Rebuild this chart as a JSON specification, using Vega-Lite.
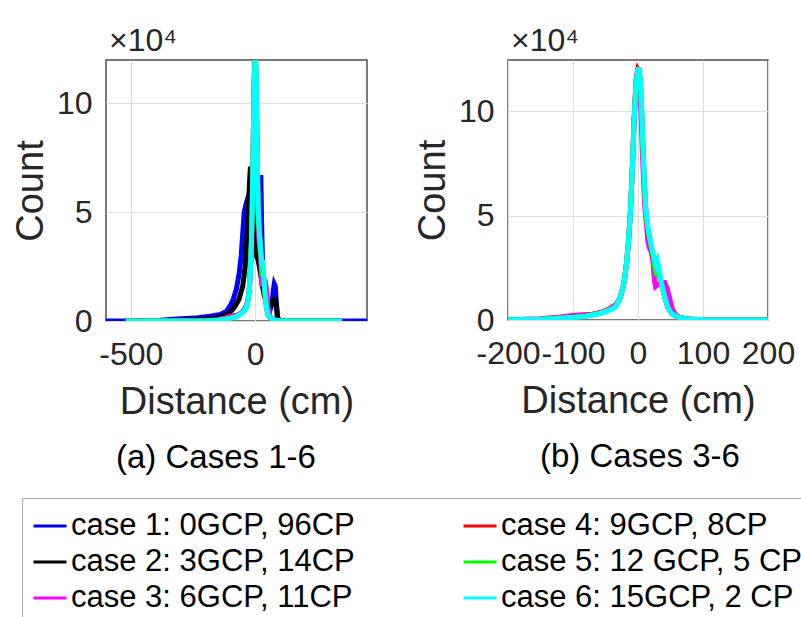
{
  "$schema": "https://vega.github.io/schema/vega-lite/v6.json",
  "padding": {"left": 11, "top": 24, "right": 0, "bottom": 0},
  "background": "white",
  "datasets": {
    "all": [
      {"case": "case 1: 0GCP, 96CP", "x": -600, "y": 0},
      {"case": "case 1: 0GCP, 96CP", "x": -430, "y": 0},
      {"case": "case 1: 0GCP, 96CP", "x": -380, "y": 0.03},
      {"case": "case 1: 0GCP, 96CP", "x": -330, "y": 0.08},
      {"case": "case 1: 0GCP, 96CP", "x": -280, "y": 0.12},
      {"case": "case 1: 0GCP, 96CP", "x": -230, "y": 0.15},
      {"case": "case 1: 0GCP, 96CP", "x": -180, "y": 0.22},
      {"case": "case 1: 0GCP, 96CP", "x": -140, "y": 0.3},
      {"case": "case 1: 0GCP, 96CP", "x": -115, "y": 0.45},
      {"case": "case 1: 0GCP, 96CP", "x": -100, "y": 0.7},
      {"case": "case 1: 0GCP, 96CP", "x": -88, "y": 1.0},
      {"case": "case 1: 0GCP, 96CP", "x": -75, "y": 1.5},
      {"case": "case 1: 0GCP, 96CP", "x": -64, "y": 2.2},
      {"case": "case 1: 0GCP, 96CP", "x": -56, "y": 3.0},
      {"case": "case 1: 0GCP, 96CP", "x": -50, "y": 4.0},
      {"case": "case 1: 0GCP, 96CP", "x": -44, "y": 5.0},
      {"case": "case 1: 0GCP, 96CP", "x": -36, "y": 5.4},
      {"case": "case 1: 0GCP, 96CP", "x": -28, "y": 5.7},
      {"case": "case 1: 0GCP, 96CP", "x": -20, "y": 6.0},
      {"case": "case 1: 0GCP, 96CP", "x": -12, "y": 5.6},
      {"case": "case 1: 0GCP, 96CP", "x": -5, "y": 4.5},
      {"case": "case 1: 0GCP, 96CP", "x": 2, "y": 3.2},
      {"case": "case 1: 0GCP, 96CP", "x": 8, "y": 2.9},
      {"case": "case 1: 0GCP, 96CP", "x": 13, "y": 3.5},
      {"case": "case 1: 0GCP, 96CP", "x": 17, "y": 5.0},
      {"case": "case 1: 0GCP, 96CP", "x": 20, "y": 6.6},
      {"case": "case 1: 0GCP, 96CP", "x": 23, "y": 6.6},
      {"case": "case 1: 0GCP, 96CP", "x": 26, "y": 4.5},
      {"case": "case 1: 0GCP, 96CP", "x": 30, "y": 2.6},
      {"case": "case 1: 0GCP, 96CP", "x": 36, "y": 1.6},
      {"case": "case 1: 0GCP, 96CP", "x": 44, "y": 0.9},
      {"case": "case 1: 0GCP, 96CP", "x": 52, "y": 0.6},
      {"case": "case 1: 0GCP, 96CP", "x": 60, "y": 0.5},
      {"case": "case 1: 0GCP, 96CP", "x": 68, "y": 0.8},
      {"case": "case 1: 0GCP, 96CP", "x": 73, "y": 1.4},
      {"case": "case 1: 0GCP, 96CP", "x": 77, "y": 1.7},
      {"case": "case 1: 0GCP, 96CP", "x": 81, "y": 1.6},
      {"case": "case 1: 0GCP, 96CP", "x": 85, "y": 0.9},
      {"case": "case 1: 0GCP, 96CP", "x": 89, "y": 0.2},
      {"case": "case 1: 0GCP, 96CP", "x": 96, "y": 0.02},
      {"case": "case 1: 0GCP, 96CP", "x": 120, "y": 0},
      {"case": "case 1: 0GCP, 96CP", "x": 450, "y": 0},

      {"case": "case 2: 3GCP, 14CP", "x": -520, "y": 0},
      {"case": "case 2: 3GCP, 14CP", "x": -300, "y": 0.03},
      {"case": "case 2: 3GCP, 14CP", "x": -200, "y": 0.08},
      {"case": "case 2: 3GCP, 14CP", "x": -150, "y": 0.15},
      {"case": "case 2: 3GCP, 14CP", "x": -110, "y": 0.3},
      {"case": "case 2: 3GCP, 14CP", "x": -85, "y": 0.6},
      {"case": "case 2: 3GCP, 14CP", "x": -65, "y": 1.0},
      {"case": "case 2: 3GCP, 14CP", "x": -50, "y": 1.6},
      {"case": "case 2: 3GCP, 14CP", "x": -40, "y": 2.5},
      {"case": "case 2: 3GCP, 14CP", "x": -33, "y": 3.8},
      {"case": "case 2: 3GCP, 14CP", "x": -27, "y": 5.2},
      {"case": "case 2: 3GCP, 14CP", "x": -22, "y": 6.5},
      {"case": "case 2: 3GCP, 14CP", "x": -19, "y": 7.1},
      {"case": "case 2: 3GCP, 14CP", "x": -16, "y": 6.6},
      {"case": "case 2: 3GCP, 14CP", "x": -12, "y": 5.3},
      {"case": "case 2: 3GCP, 14CP", "x": -6, "y": 4.2},
      {"case": "case 2: 3GCP, 14CP", "x": 0, "y": 3.4},
      {"case": "case 2: 3GCP, 14CP", "x": 6, "y": 3.0},
      {"case": "case 2: 3GCP, 14CP", "x": 12, "y": 2.8},
      {"case": "case 2: 3GCP, 14CP", "x": 20, "y": 2.3},
      {"case": "case 2: 3GCP, 14CP", "x": 28, "y": 1.7},
      {"case": "case 2: 3GCP, 14CP", "x": 36, "y": 1.2},
      {"case": "case 2: 3GCP, 14CP", "x": 46, "y": 0.8},
      {"case": "case 2: 3GCP, 14CP", "x": 56, "y": 0.6},
      {"case": "case 2: 3GCP, 14CP", "x": 64, "y": 0.7},
      {"case": "case 2: 3GCP, 14CP", "x": 70, "y": 0.85},
      {"case": "case 2: 3GCP, 14CP", "x": 75, "y": 1.0},
      {"case": "case 2: 3GCP, 14CP", "x": 81, "y": 1.0},
      {"case": "case 2: 3GCP, 14CP", "x": 86, "y": 0.7},
      {"case": "case 2: 3GCP, 14CP", "x": 90, "y": 0.2},
      {"case": "case 2: 3GCP, 14CP", "x": 97, "y": 0.02},
      {"case": "case 2: 3GCP, 14CP", "x": 120, "y": 0},
      {"case": "case 2: 3GCP, 14CP", "x": 350, "y": 0},

      {"case": "case 3: 6GCP, 11CP", "x": -520, "y": 0},
      {"case": "case 3: 6GCP, 11CP", "x": -200, "y": 0.01},
      {"case": "case 3: 6GCP, 11CP", "x": -150, "y": 0.06},
      {"case": "case 3: 6GCP, 11CP", "x": -120, "y": 0.14},
      {"case": "case 3: 6GCP, 11CP", "x": -100, "y": 0.22},
      {"case": "case 3: 6GCP, 11CP", "x": -85, "y": 0.25},
      {"case": "case 3: 6GCP, 11CP", "x": -70, "y": 0.28},
      {"case": "case 3: 6GCP, 11CP", "x": -55, "y": 0.38},
      {"case": "case 3: 6GCP, 11CP", "x": -45, "y": 0.52},
      {"case": "case 3: 6GCP, 11CP", "x": -35, "y": 0.72},
      {"case": "case 3: 6GCP, 11CP", "x": -28, "y": 1.0},
      {"case": "case 3: 6GCP, 11CP", "x": -22, "y": 1.7},
      {"case": "case 3: 6GCP, 11CP", "x": -18, "y": 2.6},
      {"case": "case 3: 6GCP, 11CP", "x": -15, "y": 3.6},
      {"case": "case 3: 6GCP, 11CP", "x": -12, "y": 5.0},
      {"case": "case 3: 6GCP, 11CP", "x": -9, "y": 7.0},
      {"case": "case 3: 6GCP, 11CP", "x": -6, "y": 9.6},
      {"case": "case 3: 6GCP, 11CP", "x": -3, "y": 11.5},
      {"case": "case 3: 6GCP, 11CP", "x": -1, "y": 11.9},
      {"case": "case 3: 6GCP, 11CP", "x": 1, "y": 11.8},
      {"case": "case 3: 6GCP, 11CP", "x": 3, "y": 11.0},
      {"case": "case 3: 6GCP, 11CP", "x": 5, "y": 9.5},
      {"case": "case 3: 6GCP, 11CP", "x": 7, "y": 7.8},
      {"case": "case 3: 6GCP, 11CP", "x": 9, "y": 6.3},
      {"case": "case 3: 6GCP, 11CP", "x": 11, "y": 5.2},
      {"case": "case 3: 6GCP, 11CP", "x": 13, "y": 4.6},
      {"case": "case 3: 6GCP, 11CP", "x": 15, "y": 3.8},
      {"case": "case 3: 6GCP, 11CP", "x": 17, "y": 3.5},
      {"case": "case 3: 6GCP, 11CP", "x": 20, "y": 3.3},
      {"case": "case 3: 6GCP, 11CP", "x": 23, "y": 2.8},
      {"case": "case 3: 6GCP, 11CP", "x": 25, "y": 2.0},
      {"case": "case 3: 6GCP, 11CP", "x": 27, "y": 1.6},
      {"case": "case 3: 6GCP, 11CP", "x": 31, "y": 1.7},
      {"case": "case 3: 6GCP, 11CP", "x": 36, "y": 1.8},
      {"case": "case 3: 6GCP, 11CP", "x": 41, "y": 1.8},
      {"case": "case 3: 6GCP, 11CP", "x": 45, "y": 1.5},
      {"case": "case 3: 6GCP, 11CP", "x": 49, "y": 1.0},
      {"case": "case 3: 6GCP, 11CP", "x": 53, "y": 0.5},
      {"case": "case 3: 6GCP, 11CP", "x": 58, "y": 0.25},
      {"case": "case 3: 6GCP, 11CP", "x": 65, "y": 0.12},
      {"case": "case 3: 6GCP, 11CP", "x": 80, "y": 0.04},
      {"case": "case 3: 6GCP, 11CP", "x": 100, "y": 0.01},
      {"case": "case 3: 6GCP, 11CP", "x": 150, "y": 0},
      {"case": "case 3: 6GCP, 11CP", "x": 350, "y": 0},

      {"case": "case 4: 9GCP, 8CP", "x": -520, "y": 0},
      {"case": "case 4: 9GCP, 8CP", "x": -200, "y": 0.01},
      {"case": "case 4: 9GCP, 8CP", "x": -150, "y": 0.04},
      {"case": "case 4: 9GCP, 8CP", "x": -120, "y": 0.1},
      {"case": "case 4: 9GCP, 8CP", "x": -100, "y": 0.14},
      {"case": "case 4: 9GCP, 8CP", "x": -80, "y": 0.2},
      {"case": "case 4: 9GCP, 8CP", "x": -60, "y": 0.32},
      {"case": "case 4: 9GCP, 8CP", "x": -45, "y": 0.48},
      {"case": "case 4: 9GCP, 8CP", "x": -35, "y": 0.65},
      {"case": "case 4: 9GCP, 8CP", "x": -28, "y": 1.0},
      {"case": "case 4: 9GCP, 8CP", "x": -22, "y": 1.7},
      {"case": "case 4: 9GCP, 8CP", "x": -18, "y": 2.6},
      {"case": "case 4: 9GCP, 8CP", "x": -15, "y": 3.6},
      {"case": "case 4: 9GCP, 8CP", "x": -12, "y": 5.0},
      {"case": "case 4: 9GCP, 8CP", "x": -9, "y": 7.0},
      {"case": "case 4: 9GCP, 8CP", "x": -6, "y": 9.5},
      {"case": "case 4: 9GCP, 8CP", "x": -3, "y": 11.4},
      {"case": "case 4: 9GCP, 8CP", "x": 0, "y": 12.0},
      {"case": "case 4: 9GCP, 8CP", "x": 2, "y": 11.9},
      {"case": "case 4: 9GCP, 8CP", "x": 4, "y": 11.2},
      {"case": "case 4: 9GCP, 8CP", "x": 6, "y": 9.7},
      {"case": "case 4: 9GCP, 8CP", "x": 8, "y": 7.9},
      {"case": "case 4: 9GCP, 8CP", "x": 10, "y": 6.4},
      {"case": "case 4: 9GCP, 8CP", "x": 12, "y": 5.2},
      {"case": "case 4: 9GCP, 8CP", "x": 15, "y": 4.3},
      {"case": "case 4: 9GCP, 8CP", "x": 19, "y": 3.6},
      {"case": "case 4: 9GCP, 8CP", "x": 23, "y": 3.0},
      {"case": "case 4: 9GCP, 8CP", "x": 26, "y": 2.5},
      {"case": "case 4: 9GCP, 8CP", "x": 29, "y": 2.3},
      {"case": "case 4: 9GCP, 8CP", "x": 32, "y": 2.2},
      {"case": "case 4: 9GCP, 8CP", "x": 35, "y": 1.9},
      {"case": "case 4: 9GCP, 8CP", "x": 38, "y": 1.5},
      {"case": "case 4: 9GCP, 8CP", "x": 42, "y": 1.0},
      {"case": "case 4: 9GCP, 8CP", "x": 46, "y": 0.6},
      {"case": "case 4: 9GCP, 8CP", "x": 52, "y": 0.3},
      {"case": "case 4: 9GCP, 8CP", "x": 60, "y": 0.15},
      {"case": "case 4: 9GCP, 8CP", "x": 75, "y": 0.05},
      {"case": "case 4: 9GCP, 8CP", "x": 100, "y": 0.01},
      {"case": "case 4: 9GCP, 8CP", "x": 150, "y": 0},
      {"case": "case 4: 9GCP, 8CP", "x": 350, "y": 0},

      {"case": "case 5: 12 GCP, 5 CP", "x": -520, "y": 0},
      {"case": "case 5: 12 GCP, 5 CP", "x": -200, "y": 0.01},
      {"case": "case 5: 12 GCP, 5 CP", "x": -150, "y": 0.04},
      {"case": "case 5: 12 GCP, 5 CP", "x": -120, "y": 0.09},
      {"case": "case 5: 12 GCP, 5 CP", "x": -100, "y": 0.13},
      {"case": "case 5: 12 GCP, 5 CP", "x": -80, "y": 0.19},
      {"case": "case 5: 12 GCP, 5 CP", "x": -60, "y": 0.31},
      {"case": "case 5: 12 GCP, 5 CP", "x": -45, "y": 0.47},
      {"case": "case 5: 12 GCP, 5 CP", "x": -35, "y": 0.64},
      {"case": "case 5: 12 GCP, 5 CP", "x": -28, "y": 1.0},
      {"case": "case 5: 12 GCP, 5 CP", "x": -22, "y": 1.7},
      {"case": "case 5: 12 GCP, 5 CP", "x": -18, "y": 2.6},
      {"case": "case 5: 12 GCP, 5 CP", "x": -15, "y": 3.6},
      {"case": "case 5: 12 GCP, 5 CP", "x": -12, "y": 5.0},
      {"case": "case 5: 12 GCP, 5 CP", "x": -9, "y": 7.1},
      {"case": "case 5: 12 GCP, 5 CP", "x": -6, "y": 9.6},
      {"case": "case 5: 12 GCP, 5 CP", "x": -3, "y": 11.4},
      {"case": "case 5: 12 GCP, 5 CP", "x": 0, "y": 12.0},
      {"case": "case 5: 12 GCP, 5 CP", "x": 2, "y": 12.0},
      {"case": "case 5: 12 GCP, 5 CP", "x": 4, "y": 11.3},
      {"case": "case 5: 12 GCP, 5 CP", "x": 6, "y": 9.8},
      {"case": "case 5: 12 GCP, 5 CP", "x": 8, "y": 8.0},
      {"case": "case 5: 12 GCP, 5 CP", "x": 10, "y": 6.5},
      {"case": "case 5: 12 GCP, 5 CP", "x": 12, "y": 5.3},
      {"case": "case 5: 12 GCP, 5 CP", "x": 15, "y": 4.4},
      {"case": "case 5: 12 GCP, 5 CP", "x": 19, "y": 3.7},
      {"case": "case 5: 12 GCP, 5 CP", "x": 23, "y": 3.1},
      {"case": "case 5: 12 GCP, 5 CP", "x": 26, "y": 2.5},
      {"case": "case 5: 12 GCP, 5 CP", "x": 28, "y": 2.2},
      {"case": "case 5: 12 GCP, 5 CP", "x": 31, "y": 2.2},
      {"case": "case 5: 12 GCP, 5 CP", "x": 34, "y": 2.0},
      {"case": "case 5: 12 GCP, 5 CP", "x": 38, "y": 1.5},
      {"case": "case 5: 12 GCP, 5 CP", "x": 42, "y": 1.0},
      {"case": "case 5: 12 GCP, 5 CP", "x": 46, "y": 0.6},
      {"case": "case 5: 12 GCP, 5 CP", "x": 52, "y": 0.3},
      {"case": "case 5: 12 GCP, 5 CP", "x": 60, "y": 0.15},
      {"case": "case 5: 12 GCP, 5 CP", "x": 75, "y": 0.05},
      {"case": "case 5: 12 GCP, 5 CP", "x": 100, "y": 0.01},
      {"case": "case 5: 12 GCP, 5 CP", "x": 150, "y": 0},
      {"case": "case 5: 12 GCP, 5 CP", "x": 350, "y": 0},

      {"case": "case 6: 15GCP, 2 CP", "x": -520, "y": 0},
      {"case": "case 6: 15GCP, 2 CP", "x": -200, "y": 0},
      {"case": "case 6: 15GCP, 2 CP", "x": -150, "y": 0.03},
      {"case": "case 6: 15GCP, 2 CP", "x": -120, "y": 0.08},
      {"case": "case 6: 15GCP, 2 CP", "x": -100, "y": 0.12},
      {"case": "case 6: 15GCP, 2 CP", "x": -80, "y": 0.18},
      {"case": "case 6: 15GCP, 2 CP", "x": -60, "y": 0.3},
      {"case": "case 6: 15GCP, 2 CP", "x": -45, "y": 0.45},
      {"case": "case 6: 15GCP, 2 CP", "x": -35, "y": 0.6},
      {"case": "case 6: 15GCP, 2 CP", "x": -28, "y": 1.0},
      {"case": "case 6: 15GCP, 2 CP", "x": -22, "y": 1.7},
      {"case": "case 6: 15GCP, 2 CP", "x": -18, "y": 2.6},
      {"case": "case 6: 15GCP, 2 CP", "x": -15, "y": 3.6},
      {"case": "case 6: 15GCP, 2 CP", "x": -12, "y": 5.0},
      {"case": "case 6: 15GCP, 2 CP", "x": -9, "y": 7.0},
      {"case": "case 6: 15GCP, 2 CP", "x": -6, "y": 9.5},
      {"case": "case 6: 15GCP, 2 CP", "x": -3, "y": 11.3},
      {"case": "case 6: 15GCP, 2 CP", "x": 0, "y": 12.0},
      {"case": "case 6: 15GCP, 2 CP", "x": 2, "y": 12.0},
      {"case": "case 6: 15GCP, 2 CP", "x": 4, "y": 11.3},
      {"case": "case 6: 15GCP, 2 CP", "x": 6, "y": 9.8},
      {"case": "case 6: 15GCP, 2 CP", "x": 8, "y": 8.0},
      {"case": "case 6: 15GCP, 2 CP", "x": 10, "y": 6.5},
      {"case": "case 6: 15GCP, 2 CP", "x": 12, "y": 5.3},
      {"case": "case 6: 15GCP, 2 CP", "x": 15, "y": 4.5},
      {"case": "case 6: 15GCP, 2 CP", "x": 19, "y": 3.8},
      {"case": "case 6: 15GCP, 2 CP", "x": 23, "y": 3.2},
      {"case": "case 6: 15GCP, 2 CP", "x": 26, "y": 2.8},
      {"case": "case 6: 15GCP, 2 CP", "x": 28, "y": 2.6},
      {"case": "case 6: 15GCP, 2 CP", "x": 30, "y": 2.8},
      {"case": "case 6: 15GCP, 2 CP", "x": 32, "y": 2.5},
      {"case": "case 6: 15GCP, 2 CP", "x": 35, "y": 2.0},
      {"case": "case 6: 15GCP, 2 CP", "x": 38, "y": 1.5},
      {"case": "case 6: 15GCP, 2 CP", "x": 42, "y": 1.0},
      {"case": "case 6: 15GCP, 2 CP", "x": 46, "y": 0.6},
      {"case": "case 6: 15GCP, 2 CP", "x": 52, "y": 0.3},
      {"case": "case 6: 15GCP, 2 CP", "x": 60, "y": 0.15},
      {"case": "case 6: 15GCP, 2 CP", "x": 75, "y": 0.05},
      {"case": "case 6: 15GCP, 2 CP", "x": 100, "y": 0.01},
      {"case": "case 6: 15GCP, 2 CP", "x": 150, "y": 0},
      {"case": "case 6: 15GCP, 2 CP", "x": 350, "y": 0}
    ]
  },
  "spacing": 45,
  "hconcat": [
    {
      "bounds": "flush",
      "title": {"text": "(a) Cases 1-6", "orient": "bottom", "anchor": "start", "frame": "group", "dx": 10, "fontSize": 33, "fontWeight": "normal", "color": "black", "offset": 20},
      "vconcat": [
        {
          "width": 261,
          "height": 261,
          "title": {"text": "×10⁴", "anchor": "start", "frame": "group", "dx": 3},
          "data": {"name": "all"},
          "mark": {"type": "line", "strokeWidth": 5, "clip": true},
          "encoding": {
            "x": {"field": "x", "type": "quantitative", "scale": {"domain": [-600, 450], "nice": false, "zero": false}, "axis": {"values": [-500, 0], "title": "Distance (cm)"}},
            "y": {"field": "y", "type": "quantitative", "scale": {"domain": [0, 12], "nice": false}, "axis": {"values": [0, 5, 10], "title": "Count"}},
            "color": {
              "field": "case", "type": "nominal",
              "scale": {
                "domain": ["case 1: 0GCP, 96CP", "case 2: 3GCP, 14CP", "case 3: 6GCP, 11CP", "case 4: 9GCP, 8CP", "case 5: 12 GCP, 5 CP", "case 6: 15GCP, 2 CP"],
                "range": ["#0000ff", "#000000", "#ff00ff", "#ff0000", "#00ff00", "#00ffff"]
              },
              "legend": {"title": null}
            }
          }
        }
      ]
    },
    {
      "bounds": "flush",
      "title": {"text": "(b) Cases 3-6", "orient": "bottom", "anchor": "start", "frame": "group", "dx": 32, "fontSize": 33, "fontWeight": "normal", "color": "black", "offset": 20},
      "vconcat": [
        {
          "width": 260,
          "height": 260,
          "title": {"text": "×10⁴", "anchor": "start", "frame": "group", "dx": 3},
          "data": {"name": "all"},
          "transform": [{"filter": {"field": "case", "oneOf": ["case 3: 6GCP, 11CP", "case 4: 9GCP, 8CP", "case 5: 12 GCP, 5 CP", "case 6: 15GCP, 2 CP"]}}],
          "mark": {"type": "line", "strokeWidth": 5, "clip": true},
          "encoding": {
            "x": {"field": "x", "type": "quantitative", "scale": {"domain": [-200, 200], "nice": false, "zero": false}, "axis": {"values": [-200, -100, 0, 100, 200], "title": "Distance (cm)"}},
            "y": {"field": "y", "type": "quantitative", "scale": {"domain": [0, 12.45], "nice": false}, "axis": {"values": [0, 5, 10], "title": "Count"}},
            "color": {"field": "case", "type": "nominal", "legend": {"title": null}}
          }
        }
      ]
    }
  ],
  "config": {
    "font": "Liberation Sans",
    "view": {"stroke": "#4d4d4d", "strokeWidth": 1.5},
    "axis": {
      "labelFont": "Liberation Sans", "labelFontSize": 32, "labelColor": "#262626",
      "titleFont": "Liberation Sans", "titleFontSize": 38, "titleFontWeight": "normal", "titleColor": "#262626",
      "grid": true, "gridColor": "#dddddd", "gridWidth": 1,
      "domain": false, "ticks": false,
      "labelOverlap": false, "labelFlush": false, "labelBound": false,
      "labelPadding": 14,
      "labelExpr": "replace(datum.label, '\u2212', '-')"
    },
    "axisX": {"titlePadding": 13, "labelPadding": 18},
    "axisY": {"titlePadding": 6},
    "title": {"font": "Liberation Sans", "fontSize": 32, "fontWeight": "normal", "color": "#262626", "baseline": "alphabetic", "offset": 2},
    "legend": {
      "orient": "none", "legendX": -84, "legendY": 438,
      "columns": 2, "columnPadding": 102, "rowPadding": 3,
      "symbolType": "stroke", "symbolSize": 1089, "symbolStrokeWidth": 3,
      "labelFont": "Liberation Sans", "labelFontSize": 31, "labelColor": "black", "labelOffset": 3, "labelLimit": 0,
      "padding": 10, "strokeColor": "#aaaaaa", "fillColor": "white"
    }
  }
}
